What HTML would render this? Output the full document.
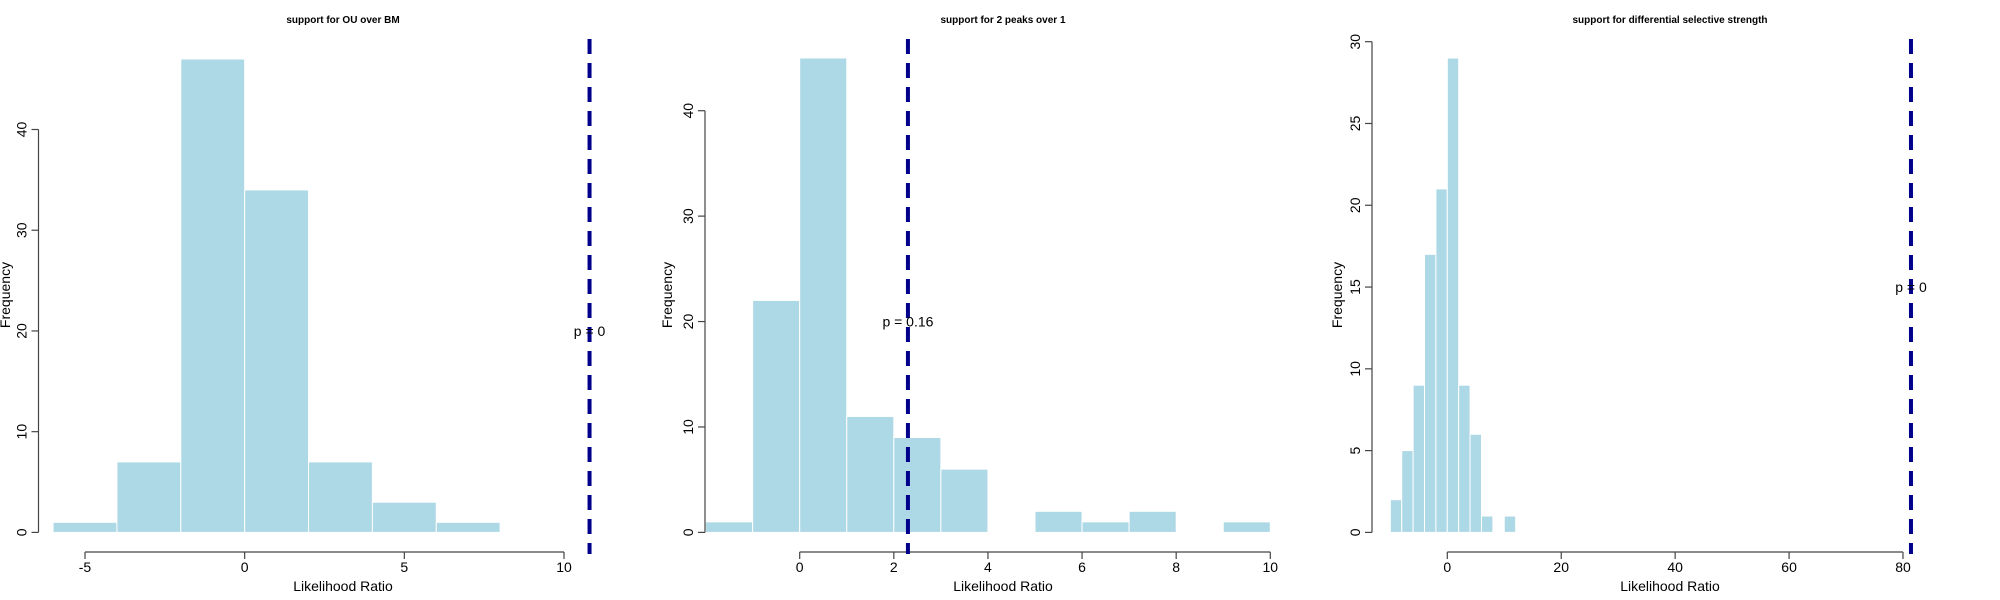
<!DOCTYPE html>
<html><head><meta charset="utf-8"><style>
html,body{margin:0;padding:0;background:#fff}
svg{display:block;font-family:"Liberation Sans",sans-serif}
</style></head><body>
<svg id="chart" width="2000" height="600" viewBox="0 0 2000 600"></svg>
<script>
// Panel 1: support for OU over BM
const p1Breaks = [-6,-4,-2,0,2,4,6,8];
const p1Counts = [1,7,47,34,7,3,1];
const p1XTicks = [-5,0,5,10];
const p1YTicks = [0,10,20,30,40];
const p1Obs = 10.8;
const p1PText = "p =  0";
const p1PY = 20;
// Panel 2: support for 2 peaks over 1
const p2Breaks = [-2,-1,0,1,2,3,4,5,6,7,8,9,10];
const p2Counts = [1,22,45,11,9,6,0,2,1,2,0,1];
const p2XTicks = [0,2,4,6,8,10];
const p2YTicks = [0,10,20,30,40];
const p2Obs = 2.3;
const p2PText = "p =  0.16";
const p2PY = 20;
// Panel 3: support for differential selective strength
const p3Breaks = [-10,-8,-6,-4,-2,0,2,4,6,8,10,12];
const p3Counts = [2,5,9,17,21,29,9,6,1,0,1];
const p3XTicks = [0,20,40,60,80];
const p3YTicks = [0,5,10,15,20,25,30];
const p3Obs = 81.4;
const p3PText = "p =  0";
const p3PY = 15;

const NS = "http://www.w3.org/2000/svg";
const svg = document.getElementById('chart');
function mk(tag, attrs, parent, text){
  const e = document.createElementNS(NS, tag);
  for (const k in attrs) e.setAttribute(k, attrs[k]);
  if (text !== undefined) e.textContent = text;
  (parent||svg).appendChild(e);
  return e;
}
function panel(o){
  const g = mk('g', {});
  
  
  const xs = v => o.x0 + (v - o.xa) * (o.x1 - o.x0) / (o.xb - o.xa);
  const ys = v => o.y0 - v * (o.y0 - o.y1) / o.ymax;
  const t = mk('text', {x:o.tx, y:23, 'text-anchor':'middle', 'font-size':10, 'font-weight':'bold', fill:'#000'}, g, o.title);
  
  
  for (let i = 0; i < o.counts.length; i++){
    if (o.counts[i] <= 0) continue;
    const xl = xs(o.breaks[i]), xr = xs(o.breaks[i+1]);
    const b = mk('rect', {x:xl, y:ys(o.counts[i]), width:xr-xl, height:ys(0)-ys(o.counts[i]), fill:'#ADD8E6', stroke:'#fff', 'stroke-width':1}, g);
    
    
  }
  const ya = mk('g', {}, g);
  
  
  const yt = o.yticks;
  mk('line', {x1:o.yax, x2:o.yax, y1:ys(yt[0]), y2:ys(yt[yt.length-1]), stroke:'#444', 'stroke-width':1.2}, ya);
  yt.forEach(v => {
    mk('line', {x1:o.yax-7, x2:o.yax, y1:ys(v), y2:ys(v), stroke:'#444', 'stroke-width':1.2}, ya);
    const lx = o.yax - 12, ly = ys(v);
    const l = mk('text', {x:lx, y:ly, 'text-anchor':'middle', 'font-size':14, fill:'#000', transform:`rotate(-90 ${lx} ${ly})`}, ya, String(v));
    
    
  });
  const fx = o.fx, fy = 295;
  const yl = mk('text', {x:fx, y:fy, 'text-anchor':'middle', 'font-size':14, fill:'#000', transform:`rotate(-90 ${fx} ${fy})`}, g, 'Frequency');
  
  
  const xa = mk('g', {}, g);
  
  
  const xt = o.xticks;
  mk('line', {x1:xs(xt[0]), x2:xs(xt[xt.length-1]), y1:552, y2:552, stroke:'#444', 'stroke-width':1.2}, xa);
  xt.forEach(v => {
    mk('line', {x1:xs(v), x2:xs(v), y1:552, y2:559, stroke:'#444', 'stroke-width':1.2}, xa);
    const l = mk('text', {x:xs(v), y:572, 'text-anchor':'middle', 'font-size':14, fill:'#000'}, xa, String(v));
    
    
  });
  const xl = mk('text', {x:o.tx, y:591, 'text-anchor':'middle', 'font-size':14, fill:'#000'}, g, 'Likelihood Ratio');
  
  
  const ln = mk('line', {x1:xs(o.obs), x2:xs(o.obs), y1:39, y2:554, stroke:'#00008B', 'stroke-width':4, 'stroke-dasharray':'15 9'}, g);
  
  
  const pt = mk('text', {x:xs(o.obs), y:ys(o.py)+5, 'text-anchor':'middle', 'font-size':14, fill:'#000'}, g, o.ptext);
  
  
}
panel({name:'panel-ou-vs-bm', title:'support for OU over BM', tx:343, breaks:p1Breaks, counts:p1Counts,
  xticks:p1XTicks, yticks:p1YTicks, obs:p1Obs, ptext:p1PText, py:p1PY,
  xa:-5, xb:10, x0:85, x1:564, y0:532.4, y1:129.5, ymax:40, yax:38.5, fx:10});
panel({name:'panel-2-peaks-vs-1', title:'support for 2 peaks over 1', tx:1003, breaks:p2Breaks, counts:p2Counts,
  xticks:p2XTicks, yticks:p2YTicks, obs:p2Obs, ptext:p2PText, py:p2PY,
  xa:0, xb:10, x0:799.7, x1:1270.3, y0:532.4, y1:110.7, ymax:40, yax:705, fx:672});
panel({name:'panel-differential-selection', title:'support for differential selective strength', tx:1670, breaks:p3Breaks, counts:p3Counts,
  xticks:p3XTicks, yticks:p3YTicks, obs:p3Obs, ptext:p3PText, py:p3PY,
  xa:0, xb:80, x0:1447.3, x1:1903, y0:532.4, y1:41.7, ymax:30, yax:1372, fx:1342});
</script>
</body></html>
